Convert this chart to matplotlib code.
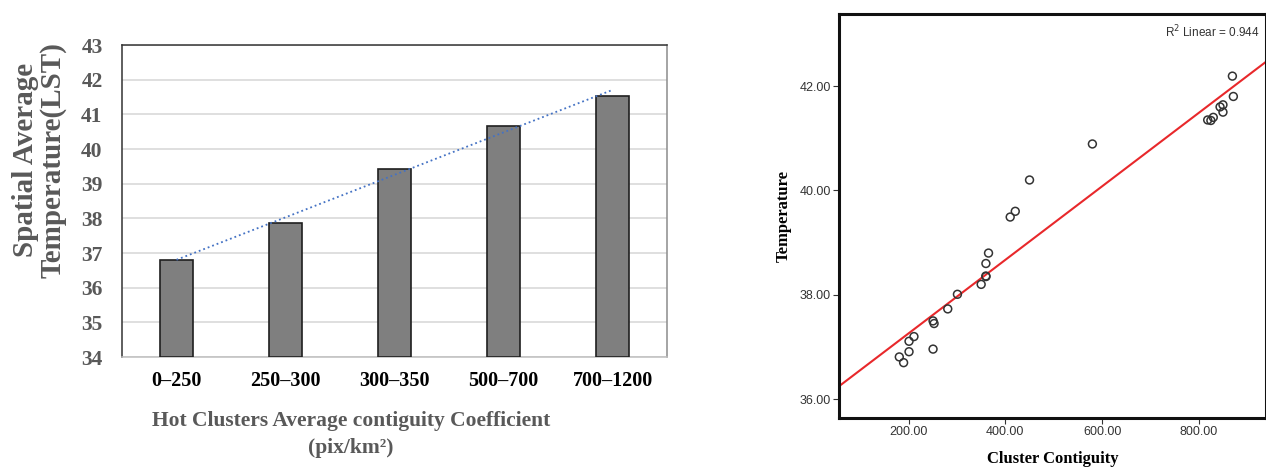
import matplotlib
matplotlib.use('Agg')
import matplotlib.pyplot as plt
import numpy as np

plt.rcParams['font.family'] = 'Liberation Serif'

# --- left chart: bar means per contiguity class ---
classes = ['0–250', '250–300', '300–350', '500–700', '700–1200']
mean_lst = [36.80, 37.86, 39.42, 40.67, 41.52]

# --- right chart: cluster contiguity vs temperature ---
contiguity = [180.7, 189.6, 200.8, 200.8, 211.0, 250.5, 250.5, 252.6, 280.9,
              300.9, 350.0, 359.6, 360.0, 359.8, 365.2, 410.0, 420.5, 450.0,
              580.0, 818.4, 825.0, 830.0, 844.0, 850.0, 850.0, 869.5, 871.5]
temperature = [36.81, 36.70, 37.11, 36.91, 37.20, 36.96, 37.50, 37.45, 37.73,
               38.01, 38.20, 38.36, 38.35, 38.60, 38.80, 39.49, 39.60, 40.20,
               40.89, 41.35, 41.34, 41.40, 41.60, 41.64, 41.50, 42.19, 41.80]
r2_text = 'R$^2$ Linear = 0.944'

fig = plt.figure(figsize=(12.66, 4.67), dpi=100)
grey = '#595959'

# ============ left: bar chart ============
ax1 = fig.add_axes([122/1266, 1-357/467, 545/1266, 312/467])
x = np.arange(len(classes))
ax1.bar(x, np.array(mean_lst) - 34, bottom=34, width=0.31, color='#7f7f7f',
        edgecolor='#1f1f1f', linewidth=1.2, zorder=3)
k, b = np.polyfit(x, mean_lst, 1)
ax1.plot([x[0], x[-1]], [k*x[0] + b, k*x[-1] + b], linestyle=':', color='#4472c4',
         linewidth=1.3, zorder=4)
ax1.set_xlim(-0.5, len(classes) - 0.5)
ax1.set_ylim(34, 43)
ax1.set_yticks(range(34, 44))
ax1.yaxis.grid(True, color='#d9d9d9', linewidth=1.2, zorder=0)
ax1.set_axisbelow(True)
ax1.set_xticks(x)
ax1.set_xticklabels(classes, fontsize=14.5, fontweight='bold', color='black')
for lbl in ax1.get_yticklabels():
    lbl.set_fontsize(15.5)
    lbl.set_fontweight('bold')
    lbl.set_color(grey)
ax1.tick_params(axis='y', length=0, pad=14)
ax1.tick_params(axis='x', length=0, pad=10)
ax1.spines['top'].set_color('#333333')
ax1.spines['left'].set_color('#333333')
ax1.spines['right'].set_color('#8c8c8c')
ax1.spines['bottom'].set_color('#bfbfbf')
for s in ax1.spines.values():
    s.set_linewidth(1.1)

fig.text(39/1266, 1-160/467, 'Spatial Average\nTemperature(LST)', rotation=90,
         ha='center', va='center', fontsize=21, fontweight='bold', color=grey,
         linespacing=1.0)
fig.text(351/1266, 1-411/467, 'Hot Clusters Average contiguity Coefficient\n(pix/km²)',
         ha='center', va='top', fontsize=15.5, fontweight='bold', color=grey,
         linespacing=1.45)

# ============ right: scatter with linear fit ============
ax2 = fig.add_axes([839/1266, 1-418/467, 427/1266, 404/467])
ax2.scatter(contiguity, temperature, s=32, facecolors='none', edgecolors='#333333',
            linewidths=1.1, zorder=3)
xlo, xhi = 56, 939
k2, b2 = np.polyfit(contiguity, temperature, 1)
ax2.plot([xlo, xhi], [k2*xlo + b2, k2*xhi + b2], color='#e8282b', linewidth=1.5, zorder=2)
ax2.set_xlim(xlo, xhi)
ax2.set_ylim(35.64, 43.38)
ax2.set_xticks([200, 400, 600, 800])
ax2.set_yticks([36, 38, 40, 42])
ax2.set_xticklabels(['%.2f' % v for v in [200, 400, 600, 800]])
ax2.set_yticklabels(['%.2f' % v for v in [36, 38, 40, 42]])
for lbl in ax2.get_xticklabels() + ax2.get_yticklabels():
    lbl.set_family('Liberation Sans')
    lbl.set_fontsize(9)
    lbl.set_color('#333333')
ax2.tick_params(length=4, width=0.8, color='#333333', pad=2)
for s in ax2.spines.values():
    s.set_linewidth(2.2)
    s.set_color('#111111')
ax2.text(0.985, 0.955, r2_text, transform=ax2.transAxes, ha='right', va='center',
         family='Liberation Sans', fontsize=8.5, color='#333333')

fig.text(784/1266, 1-216/467, 'Temperature', rotation=90, ha='center', va='center',
         fontsize=12, fontweight='bold', color='black')
fig.text(1053/1266, 1-451/467, 'Cluster Contiguity', ha='center', va='top',
         fontsize=12, fontweight='bold', color='black')

fig.savefig('out.png', dpi=100)
